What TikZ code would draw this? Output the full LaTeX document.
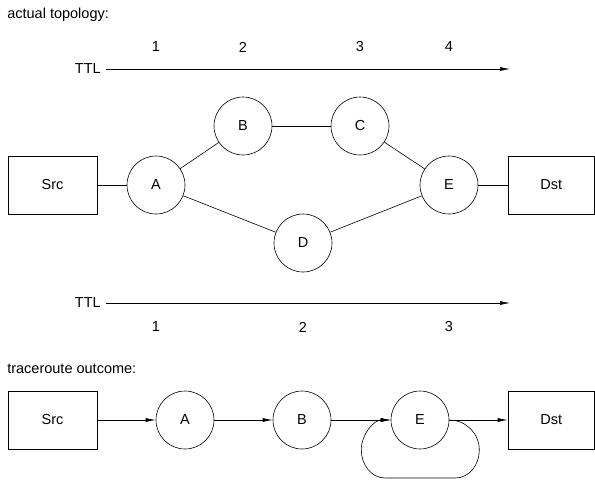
\documentclass[tikz,border=0pt]{standalone}
\usepackage{fontspec}
\setmainfont{Liberation Sans}
\usetikzlibrary{arrows.meta}
\tikzset{
  hop/.style={draw,circle,minimum size=58pt,inner sep=0pt},
  host/.style={draw,rectangle,minimum width=89pt,minimum height=58pt,inner sep=0pt},
  arr/.style={-{Latex[length=10pt,width=4pt]}},
}

\begin{document}
\begin{tikzpicture}[x=1pt,y=-1pt,line width=.6pt,font=\fontsize{14.5}{17}\selectfont]
\path[use as bounding box] (0,0) rectangle (595,480);
% actual topology
\node[anchor=west,inner sep=0pt] (title1) at (7,15) {actual topology:};
\node (n1) at (156,47) {1};
\node (n2) at (243,47) {2};
\node (n3) at (360,47) {3};
\node (n4) at (449,47) {4};
\node[anchor=east,inner sep=0pt] (ttl1) at (101,69) {TTL};
\coordinate (ttl1end) at (510,69);
\draw[arr] ([xshift=5pt]ttl1.east) -- (ttl1end);
\node[host] (src) at (52.5,185) {Src};
\node[hop] (A) at (156,185) {A};
\node[hop] (B) at (243,126) {B};
\node[hop] (C) at (360,126) {C};
\node[hop] (D) at (303,243) {D};
\node[hop] (E) at (449,185) {E};
\node[host,minimum width=86.5pt] (dst) at (551.25,185) {Dst};
\draw (src) -- (A);
\draw (A) -- (B);
\draw (B) -- (C);
\draw (C) -- (E);
\draw (A) -- (D);
\draw (D) -- (E);
\draw (E) -- (dst);
\node[anchor=east,inner sep=0pt] (ttl2) at (101,303) {TTL};
\coordinate (ttl2end) at (510,303);
\draw[arr] ([xshift=5pt]ttl2.east) -- (ttl2end);
\node (m1) at (156,327) {1};
\node (m2) at (303,327) {2};
\node (m3) at (449,327) {3};
% traceroute outcome
\node[anchor=west,inner sep=0pt] (title2) at (7,369) {traceroute outcome:};
\node[host] (src2) at (52.5,420) {Src};
\node[hop] (A2) at (185,420) {A};
\node[hop] (B2) at (302,420) {B};
\node[hop] (E2) at (420,420) {E};
\node[host,minimum width=86.5pt] (dst2) at (551.25,420) {Dst};
\draw[arr] (src2) -- (A2);
\draw[arr] (A2) -- (B2);
\draw[arr] (B2) -- (E2);
\draw[arr] (E2) -- (dst2);
\draw[arr] (E2.east) to[out=0,in=90] ++(30,30) to[out=-90,in=0] ++(-24,28)
  -- ++(-70,0) to[out=180,in=-90] ++(-24,-28) to[out=90,in=180] (E2.west);
\end{tikzpicture}
\end{document}
